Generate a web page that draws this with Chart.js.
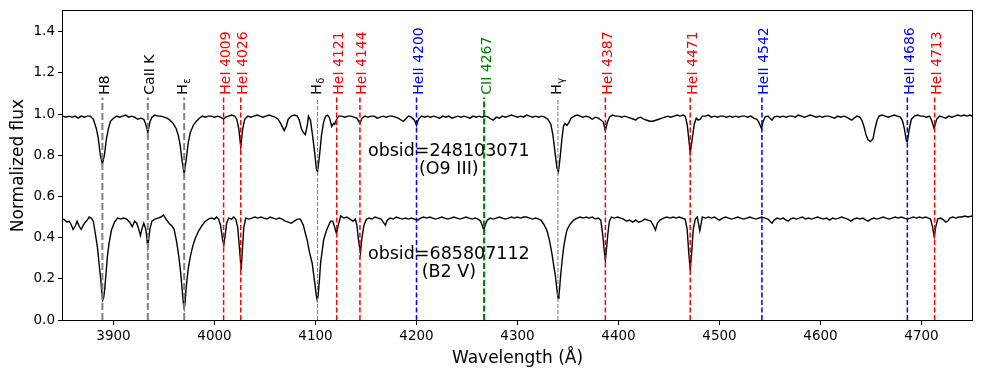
<!DOCTYPE html>
<html><head><meta charset="utf-8">
<script src="https://cdn.jsdelivr.net/npm/chart.js@4.4.0/dist/chart.umd.min.js"></script>
<style>html,body{margin:0;padding:0;background:#fff;} canvas{display:block;}</style>
</head><body>
<canvas id="c" width="981" height="381"></canvas>
<script>
// ---- Spectrum 1: obsid=248103071 (O9 III) ----
const waveTop = [3850,3853,3856,3859,3862,3865,3868,3871,3874,3877,3880,3883,3885,3887,3889,3891,3893,3895,3897,3900,3903,3906,3909,3912,3915,3918,3921,3924,3927,3930,3932,3934,3936,3938,3941,3944,3947,3950,3953,3956,3959,3962,3964,3966,3968,3970,3972,3974,3976,3979,3982,3985,3988,3991,3994,3997,4000,4003,4006,4009,4011,4014,4017,4020,4022,4024,4026,4028,4030,4033,4036,4039,4042,4045,4048,4051,4054,4057,4060,4063,4066,4069,4071,4073,4076,4079,4082,4084,4086,4088,4090,4092,4093,4095,4097,4099,4101,4102,4104,4106,4108,4110,4112,4114,4116,4118,4119,4121,4123,4126,4129,4132,4135,4138,4141,4144,4146,4149,4152,4155,4158,4161,4164,4167,4170,4173,4176,4179,4182,4185,4187,4189,4192,4195,4198,4200,4202,4205,4208,4211,4214,4217,4220,4223,4226,4229,4232,4235,4238,4241,4244,4247,4250,4253,4256,4259,4262,4265,4268,4271,4274,4276,4279,4282,4285,4288,4291,4294,4297,4300,4303,4306,4309,4312,4315,4318,4321,4324,4327,4330,4333,4335,4337,4339,4340.5,4342,4344,4345.5,4347,4349,4351,4353,4356,4359,4362,4365,4368,4371,4374,4377,4380,4383,4385,4387,4389,4391,4394,4397,4400,4403,4406,4409,4412,4415,4417,4419,4422,4425,4428,4431,4434,4437,4440,4443,4446,4449,4452,4455,4458,4461,4464,4466,4468,4470,4471,4473,4475,4477,4479,4481,4483,4486,4489,4492,4495,4498,4501,4504,4507,4510,4513,4516,4519,4522,4525,4528,4531,4534,4537,4539,4541.5,4543,4545,4548,4550,4552,4554,4557,4560,4563,4566,4569,4572,4575,4578,4581,4584,4587,4590,4593,4596,4599,4602,4605,4608,4611,4614,4617,4620,4623,4626,4629,4631,4633,4636,4639,4641,4643,4645,4647,4649.5,4652,4654,4656,4658,4661,4664,4667,4670,4673,4676,4679,4681,4683,4685,4686,4688,4690,4693,4696,4699,4702,4705,4708,4710,4712.5,4715,4718,4721,4724,4727,4730,4733,4736,4739,4742,4745,4748,4750];
const fluxTop = [0.99,0.985,0.99,0.985,0.99,0.98,0.99,0.985,0.99,0.99,0.975,0.93,0.88,0.80,0.757,0.80,0.88,0.93,0.965,0.98,0.99,0.985,0.99,0.995,0.985,0.99,0.985,0.975,0.98,0.975,0.95,0.91,0.96,0.985,0.995,0.99,0.99,0.985,0.98,0.97,0.955,0.93,0.90,0.85,0.77,0.71,0.78,0.86,0.91,0.945,0.965,0.98,0.99,0.985,0.99,0.99,0.985,0.99,0.985,0.975,0.985,0.99,0.995,0.99,0.975,0.93,0.84,0.93,0.975,0.99,0.985,0.99,0.995,0.99,0.985,0.99,0.995,0.99,0.985,0.975,0.95,0.92,0.94,0.975,0.99,0.995,0.99,0.97,0.93,0.91,0.90,0.95,0.99,0.97,0.90,0.82,0.73,0.72,0.80,0.90,0.96,0.99,0.995,0.98,0.94,0.955,0.95,0.975,0.99,0.99,0.985,0.99,0.99,0.985,0.98,0.955,0.98,0.99,0.985,0.99,0.99,0.98,0.985,0.99,0.985,0.99,0.99,0.985,0.98,0.97,0.965,0.975,0.99,0.985,0.97,0.945,0.975,0.99,0.985,0.99,0.985,0.99,0.985,0.98,0.99,0.985,0.99,0.98,0.985,0.99,0.985,0.99,0.985,0.98,0.99,0.985,0.99,0.985,0.99,0.985,0.975,0.97,0.985,0.98,0.99,0.985,0.99,0.995,0.99,0.985,0.99,0.985,0.995,0.99,0.985,0.99,0.985,0.99,0.985,0.975,0.95,0.90,0.82,0.74,0.72,0.78,0.88,0.94,0.955,0.945,0.96,0.98,0.99,0.995,0.99,0.985,0.99,0.985,0.975,0.985,0.98,0.97,0.96,0.92,0.96,0.985,0.995,0.99,0.99,0.985,0.99,0.985,0.98,0.975,0.97,0.98,0.985,0.975,0.97,0.965,0.965,0.97,0.975,0.98,0.985,0.99,0.985,0.99,0.995,0.99,0.995,0.99,0.95,0.86,0.81,0.88,0.95,0.98,0.97,0.975,0.99,0.99,0.995,0.985,0.99,0.985,0.99,0.99,0.985,0.99,0.985,0.99,0.985,0.99,0.99,0.985,0.99,0.98,0.975,0.96,0.93,0.96,0.985,0.99,0.98,0.97,0.985,0.99,0.985,0.99,0.985,0.99,0.99,0.985,0.995,0.99,0.985,0.99,0.995,0.99,0.985,0.99,0.985,0.99,0.99,0.985,0.98,0.99,0.985,0.99,0.985,0.975,0.97,0.98,0.99,0.985,0.97,0.94,0.90,0.875,0.866,0.88,0.93,0.97,0.99,0.995,0.99,0.985,0.99,0.995,0.99,0.985,0.97,0.93,0.87,0.866,0.93,0.975,0.99,0.995,0.99,0.99,0.985,0.99,0.97,0.93,0.975,0.99,0.985,0.98,0.99,0.985,0.99,0.995,0.99,0.995,0.99,0.995,0.99];

// ---- Spectrum 2: obsid=685807112 (B2 V) ----
const waveBottom = [3850,3852,3854,3856,3858,3860,3862,3864,3866,3868,3870,3872,3874,3876,3878,3880,3882,3884,3886,3887.5,3888.5,3889.4,3890.3,3891.3,3892.5,3894,3895.5,3898,3901,3904,3907,3910,3913,3916,3918.5,3921,3923,3925,3926.7,3928,3930,3932,3934,3936,3938,3941,3944,3947,3949.5,3952,3955,3958,3960,3962.5,3964.7,3966.5,3968,3969.2,3970,3970.8,3972,3974,3976,3978.5,3981,3984,3987.8,3991,3994,3997,4000,4002,4004,4006,4008,4009.2,4010.5,4012,4014,4017,4019,4021,4023,4025,4026.4,4027.5,4029,4031,4034,4037,4040,4043,4046,4049,4052,4055,4058,4061,4064,4067,4070,4073,4076,4079,4082,4085,4088,4090,4091.8,4094,4096.7,4099,4100.8,4101.7,4102.6,4104,4105,4106.5,4108,4110.5,4113,4115,4117,4119,4120.8,4122.5,4125,4128,4131,4134,4137,4139.5,4141,4142.5,4144.5,4146,4148,4150.5,4153,4156,4159,4162,4165,4167,4169.3,4171,4174,4177,4180,4183,4186,4189,4192,4195,4198,4201,4204,4207,4210,4213,4216,4219,4222,4225,4228,4231,4234,4237,4240,4243,4246,4249,4252,4255,4258,4261,4263.5,4265,4266.6,4268,4270,4273,4276,4279,4282,4285,4288,4291,4294,4297,4300,4303,4306,4309,4312,4315,4318,4321,4323,4326,4329,4331.5,4334,4336,4337.6,4339,4339.7,4340.3,4341,4341.8,4342.6,4344.2,4345.8,4347.5,4349,4352,4355.7,4359,4362,4365,4368,4371,4374,4377,4380,4382.5,4384.7,4386,4387,4388,4389.5,4391,4393,4396,4399,4402,4405,4408,4411,4414,4417,4420,4423,4426,4429,4432,4434.5,4436.6,4438.5,4441,4444.6,4448,4451,4454,4457,4460,4463,4466,4468,4469.5,4471,4472.5,4474,4476,4478,4479.5,4480.5,4481.5,4483,4486,4489,4492,4495,4498,4500,4503,4506,4509,4512,4515,4518,4521,4524,4527,4530,4533,4536,4539,4542,4545,4548,4550,4552,4554,4557,4560,4563,4566,4568,4570,4573,4576,4579,4582,4585,4588,4591,4594,4597,4600,4603,4606,4609,4612,4615,4618,4621,4624,4627,4630,4633,4636,4639,4642,4645,4647,4650,4653,4656,4659,4662,4665,4668,4671,4674,4677,4680,4683,4686,4689,4692,4695,4698,4701,4704,4707,4709,4711,4712.6,4714,4716,4719,4722,4724,4726,4728,4731,4734,4737,4740,4743,4746,4750];
const fluxBottom = [0.49,0.485,0.475,0.48,0.465,0.44,0.455,0.48,0.455,0.44,0.46,0.475,0.485,0.5,0.495,0.48,0.42,0.356,0.26,0.19,0.13,0.097,0.11,0.15,0.22,0.31,0.37,0.437,0.475,0.495,0.49,0.495,0.49,0.475,0.453,0.48,0.47,0.44,0.41,0.44,0.47,0.44,0.356,0.44,0.48,0.49,0.495,0.5,0.51,0.49,0.47,0.455,0.44,0.38,0.307,0.23,0.146,0.08,0.057,0.08,0.16,0.25,0.307,0.36,0.397,0.43,0.46,0.48,0.49,0.495,0.49,0.5,0.49,0.46,0.39,0.364,0.41,0.47,0.495,0.49,0.5,0.49,0.45,0.33,0.243,0.33,0.45,0.495,0.49,0.495,0.5,0.495,0.5,0.495,0.49,0.5,0.495,0.49,0.495,0.49,0.48,0.475,0.47,0.48,0.49,0.49,0.46,0.42,0.388,0.33,0.276,0.19,0.12,0.097,0.12,0.2,0.276,0.33,0.388,0.43,0.46,0.48,0.48,0.45,0.42,0.46,0.505,0.495,0.5,0.49,0.48,0.49,0.46,0.39,0.325,0.4,0.46,0.49,0.495,0.49,0.5,0.495,0.49,0.475,0.46,0.485,0.495,0.49,0.5,0.495,0.49,0.495,0.49,0.495,0.49,0.485,0.495,0.5,0.495,0.5,0.495,0.49,0.495,0.5,0.495,0.49,0.495,0.5,0.495,0.49,0.495,0.5,0.495,0.49,0.495,0.49,0.48,0.46,0.437,0.46,0.485,0.495,0.49,0.495,0.5,0.495,0.49,0.495,0.5,0.495,0.5,0.495,0.5,0.5,0.495,0.49,0.495,0.49,0.485,0.465,0.437,0.39,0.325,0.26,0.21,0.15,0.12,0.105,0.12,0.16,0.21,0.29,0.356,0.405,0.437,0.465,0.485,0.495,0.5,0.495,0.5,0.495,0.5,0.49,0.495,0.485,0.4,0.33,0.29,0.34,0.42,0.48,0.5,0.495,0.5,0.495,0.49,0.48,0.485,0.475,0.485,0.475,0.48,0.49,0.485,0.48,0.46,0.437,0.47,0.485,0.495,0.5,0.495,0.5,0.495,0.5,0.495,0.49,0.44,0.33,0.243,0.33,0.44,0.49,0.5,0.46,0.434,0.46,0.5,0.495,0.5,0.495,0.5,0.49,0.485,0.495,0.5,0.495,0.49,0.495,0.5,0.495,0.49,0.495,0.5,0.495,0.49,0.495,0.5,0.495,0.49,0.48,0.47,0.485,0.495,0.49,0.495,0.485,0.48,0.49,0.495,0.49,0.495,0.5,0.49,0.495,0.49,0.495,0.5,0.495,0.49,0.495,0.485,0.495,0.49,0.495,0.5,0.495,0.49,0.48,0.49,0.495,0.49,0.495,0.485,0.48,0.49,0.495,0.49,0.495,0.5,0.495,0.49,0.495,0.5,0.495,0.5,0.495,0.49,0.495,0.5,0.495,0.5,0.495,0.5,0.495,0.49,0.45,0.405,0.45,0.49,0.495,0.485,0.475,0.48,0.495,0.5,0.495,0.5,0.5,0.505,0.5,0.505];

// ---- Spectral line markers ----
const lineWaves  = [3889, 3934, 3970, 4009, 4026, 4102, 4121, 4144, 4200, 4267, 4340, 4387, 4471, 4542, 4686, 4713];
const lineLabels = ["H8","CaII K","H_ε","HeI 4009","HeI 4026","H_δ","HeI 4121","HeI 4144","HeII 4200","CII 4267","H_γ","HeI 4387","HeI 4471","HeII 4542","HeII 4686","HeI 4713"];
const lineKinds  = ["Hthick","Hthick","Hthick","HeI","HeI","Hthin","HeI","HeI","HeII","CII","Hthin","HeI","HeI","HeII","HeII","HeI"];
const lineTop = 1.08;
const labelBase = 1.094;

// ---- Annotations ----
const noteTexts = ["obsid=248103071", "(O9 III)", "obsid=685807112", "(B2 V)"];
const noteX = [4232, 4232, 4232, 4232];
const noteY = [0.798, 0.708, 0.295, 0.21];

// ---- Axes ----
const xTicks = [3900, 4000, 4100, 4200, 4300, 4400, 4500, 4600, 4700];
const yTicks = [0.0, 0.2, 0.4, 0.6, 0.8, 1.0, 1.2, 1.4];

const kindStyle = {
  Hthick: {color: '#808080', text: '#000000', width: 2.0, dash: [7, 3]},
  Hthin:  {color: '#808080', text: '#000000', width: 1.1, dash: [4, 2]},
  HeI:    {color: '#ff0000', text: '#ff0000', width: 1.5, dash: [5, 2.5]},
  HeII:   {color: '#0000ff', text: '#0000ff', width: 1.5, dash: [5, 2.5]},
  CII:    {color: '#008000', text: '#008000', width: 2.2, dash: [6, 2.5]}
};
const FONT = '"DejaVu Sans", sans-serif';

const datasets = [];
lineWaves.forEach((w, i) => {
  const st = kindStyle[lineKinds[i]];
  datasets.push({
    data: [{x: w, y: 0}, {x: w, y: lineTop}],
    showLine: true, pointRadius: 0, borderColor: st.color, borderWidth: st.width,
    borderDash: st.dash, order: 0
  });
});
datasets.push({
  data: waveTop.map((w, i) => ({x: w, y: fluxTop[i]})),
  showLine: true, pointRadius: 0, borderColor: '#000', borderWidth: 1.4, order: 1
});
datasets.push({
  data: waveBottom.map((w, i) => ({x: w, y: fluxBottom[i]})),
  showLine: true, pointRadius: 0, borderColor: '#000', borderWidth: 1.4, order: 1
});

const overlay = {
  id: 'overlay',
  afterDatasetsDraw(chart) {
    const {ctx, chartArea: a, scales: {x, y}} = chart;
    ctx.save();
    lineLabels.forEach((lab, i) => {
      const st = kindStyle[lineKinds[i]];
      const parts = lab.split('_');
      const px = x.getPixelForValue(lineWaves[i]);
      const py = y.getPixelForValue(labelBase);
      ctx.save();
      ctx.translate(px + (parts.length > 1 ? 3 : 6.5), py);
      ctx.rotate(-Math.PI / 2);
      ctx.fillStyle = st.text;
      ctx.textAlign = 'left';
      ctx.textBaseline = 'alphabetic';
      ctx.font = '14px ' + FONT;
      ctx.fillText(parts[0], 0, 0);
      if (parts.length > 1) {
        const w = ctx.measureText(parts[0]).width;
        ctx.font = '10px ' + FONT;
        ctx.fillText(parts[1], w + 0.5, 3);
      }
      ctx.restore();
    });
    ctx.fillStyle = '#000';
    ctx.font = '17.5px ' + FONT;
    ctx.textAlign = 'center';
    ctx.textBaseline = 'alphabetic';
    noteTexts.forEach((t, i) => {
      ctx.fillText(t, x.getPixelForValue(noteX[i]), y.getPixelForValue(noteY[i]));
    });
    ctx.strokeStyle = '#000';
    ctx.lineWidth = 1;
    ctx.strokeRect(Math.round(a.left) - 0.5, Math.round(a.top) - 0.5,
                   Math.round(a.right) - Math.round(a.left) + 1, Math.round(a.bottom) - Math.round(a.top) + 1);
    ctx.restore();
  }
};

new Chart(document.getElementById('c'), {
  type: 'scatter',
  data: {datasets},
  options: {
    responsive: false, animation: false, devicePixelRatio: 1,
    layout: {padding: {left: 0, top: 10, right: 9, bottom: 0}},
    plugins: {legend: {display: false}, tooltip: {enabled: false}},
    elements: {line: {tension: 0}},
    scales: {
      x: {
        type: 'linear', min: 3850, max: 4750,
        afterBuildTicks: s => { s.ticks = xTicks.map(v => ({value: v})); },
        afterFit: s => { s.height = 61; },
        border: {display: false},
        grid: {display: true, drawOnChartArea: false, drawTicks: true, tickLength: 5, tickColor: '#000', color: '#000'},
        ticks: {color: '#000', font: {family: FONT, size: 13.5}, padding: 3, maxRotation: 0, autoSkip: false,
                callback: v => String(v)},
        title: {display: true, text: 'Wavelength (Å)', color: '#000', font: {family: FONT, size: 17}, padding: {top: 0, bottom: 12}}
      },
      y: {
        type: 'linear', min: 0, max: 1.5,
        afterBuildTicks: s => { s.ticks = yTicks.map(v => ({value: v})); },
        afterFit: s => { s.width = 63; },
        border: {display: false},
        grid: {display: true, drawOnChartArea: false, drawTicks: true, tickLength: 5, tickColor: '#000', color: '#000'},
        ticks: {color: '#000', font: {family: FONT, size: 13.5}, padding: 3, autoSkip: false,
                callback: v => Number(v).toFixed(1)},
        title: {display: true, text: 'Normalized flux', color: '#000', font: {family: FONT, size: 17}, padding: {top: 8, bottom: 0}}
      }
    }
  },
  plugins: [overlay]
});
</script>
</body></html>
